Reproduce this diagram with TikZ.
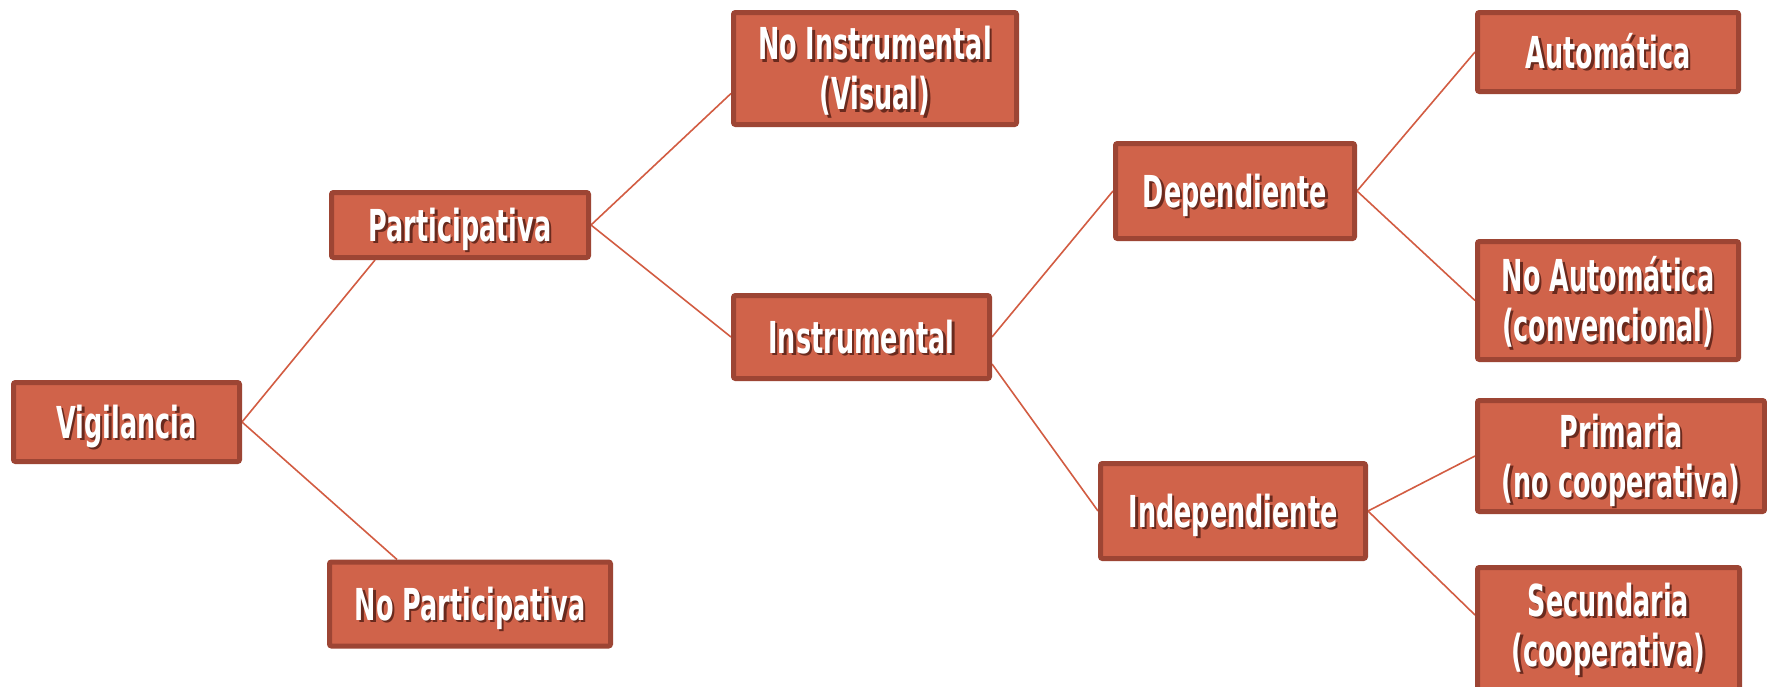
\documentclass[tikz,border=0pt]{standalone}
\usepackage{fontspec}
\usetikzlibrary{backgrounds}
\newfontfamily\boxfont[FakeStretch=0.58]{DejaVu Sans}
\definecolor{boxfill}{RGB}{208,99,74}
\definecolor{boxline}{RGB}{157,69,52}
\definecolor{connc}{RGB}{210,92,66}
\definecolor{shc}{RGB}{105,42,30}
\newcommand\sh[1]{\leavevmode\rlap{\kern2.5pt\raisebox{-2.5pt}{\textcolor{shc}{#1}}}#1}
\newcommand\bx[2]{\raisebox{0pt}[#1][0pt]{\begin{tabular}[b]{@{}c@{}}#2\end{tabular}}}
\tikzset{
  box/.style={draw=boxline, fill=boxfill, line width=5pt, rounded corners=2pt,
    text=white, font=\boxfont\bfseries\fontsize{44}{50}\selectfont,
    align=center, inner sep=0pt},
  connector/.style={draw=connc, line width=1.6pt}
}
\begin{document}
\begin{tikzpicture}[x=1pt,y=-1pt]
\useasboundingbox (0,0) rectangle (1767,686);
\node[box, minimum width=226pt, minimum height=79pt] (vig) at (126.5,422) {\bx{32pt}{\sh{Vigilancia}}};
\node[box, minimum width=257pt, minimum height=65pt] (part) at (460,225) {\bx{32pt}{\sh{Participativa}}};
\node[box, minimum width=281pt, minimum height=84pt] (nopart) at (470,604) {\bx{32pt}{\sh{No Participativa}}};
\node[box, minimum width=283pt, minimum height=112pt] (noinst) at (875,68.5) {\bx{82pt}{\sh{No Instrumental}\\\sh{(Visual)}}};
\node[box, minimum width=256pt, minimum height=83pt] (inst) at (861.5,337) {\bx{32pt}{\sh{Instrumental}}};
\node[box, minimum width=239pt, minimum height=95pt] (dep) at (1235,191) {\bx{32pt}{\sh{Dependiente}}};
\node[box, minimum width=265pt, minimum height=95pt] (indep) at (1233,511) {\bx{32pt}{\sh{Independiente}}};
\node[box, minimum width=261pt, minimum height=79pt] (auto) at (1608,52) {\bx{32pt}{\sh{Automática}}};
\node[box, minimum width=261pt, minimum height=118pt] (noauto) at (1608,300.5) {\bx{82pt}{\sh{No Automática}\\\sh{(convencional)}}};
\node[box, minimum width=287pt, minimum height=111pt] (prim) at (1621,456) {\bx{82pt}{\sh{Primaria}\\\sh{(no cooperativa)}}};
\node[box, minimum width=262pt, minimum height=125pt] (sec) at (1608.5,630) {\raisebox{10pt}{\bx{82pt}{\sh{Secundaria}\\\sh{(cooperativa)}}}};
\begin{scope}[on background layer]
\fill[white] (0,0) rectangle (1767,686);
\draw[connector] (vig.east) -- ([xshift=46pt]part.south west);
\draw[connector] (vig.east) -- ([xshift=70pt]nopart.north west);
\draw[connector] (part.east) -- ([yshift=-25pt]noinst.west);
\draw[connector] (part.east) -- (inst.west);
\draw[connector] (inst.east) -- (dep.west);
\draw[connector] ([yshift=-27pt]inst.east) -- (indep.west);
\draw[connector] (dep.east) -- (auto.west);
\draw[connector] (dep.east) -- (noauto.west);
\draw[connector] (indep.east) -- (prim.west);
\draw[connector] (indep.east) -- ([yshift=15pt]sec.west);
\end{scope}
\end{tikzpicture}
\end{document}
